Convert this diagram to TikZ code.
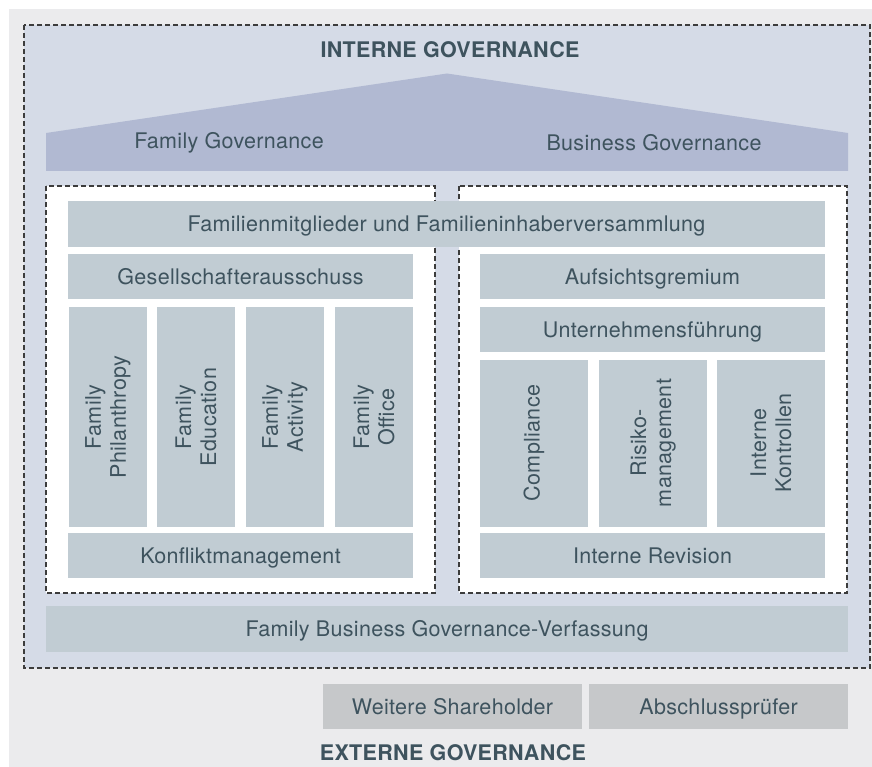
\documentclass[tikz,border=0pt]{standalone}
\usepackage{fontspec}
\setmainfont[LetterSpace=1.5]{TeX Gyre Heros}
\definecolor{paper}{HTML}{EBEBED}
\definecolor{lav}{HTML}{D5DBE7}
\definecolor{roofc}{HTML}{B1B9D2}
\definecolor{boxc}{HTML}{C1CCD3}
\definecolor{extc}{HTML}{C6C8CA}
\definecolor{ink}{HTML}{3E535E}
\definecolor{dashc}{HTML}{3C3C3C}
% horizontal block: [options]{x1}{y1}{x2}{y2}{text}
\newcommand\hblock[6][]{%
  \node[bar,#1,minimum width={(#4-#2)*1pt},minimum height={(#5-#3)*1pt}]
    at ({(#2+#4)/2},{(#3+#5)/2}) {#6};}
\begin{document}
\begin{tikzpicture}[x=1pt,y=-1pt,
  lbl/.style={text=ink,font=\fontsize{21.5}{25}\selectfont,inner sep=0pt},
  bar/.style={lbl,fill=boxc,draw=none,text height=15.5pt,text depth=0pt},
  vbar/.style={lbl,fill=boxc,draw=none,rotate=90,align=center},
  ext/.style={fill=extc},
  title/.style={text=ink,font=\fontsize{21.5}{25}\selectfont\bfseries,inner sep=0pt},
  frame/.style={draw=dashc,line width=1.1pt,dash pattern=on 5pt off 3pt}
]
\useasboundingbox (0,0) rectangle (872,767);
% background
\fill[paper] (9,9) rectangle (872,767);
% internal governance frame
\draw[frame,fill=lav] (24,25) rectangle (870,668);
\node[title] (intern) at (450,50) {INTERNE GOVERNANCE};
% roof
\fill[roofc] (46,171) -- (46,133) -- (447,73.5) -- (848,133) -- (848,171) -- cycle;
\node[lbl] (famgov) at (229,143) {Family Governance};
\node[lbl] (busgov) at (654,143) {Business Governance};
% two pillars
\draw[frame,fill=white] (46,186) rectangle (435,593);
\draw[frame,fill=white] (459,186) rectangle (847,593);
% shared top block
\hblock[name=mitglieder]{68}{201}{825}{247}{Familienmitglieder und Familieninhaberversammlung}
% family pillar
\hblock[name=gesell]{68}{254}{413}{299}{Gesellschafterausschuss}
\node[vbar,minimum width=220pt,minimum height=78pt] (phil) at (108,417) {Family\\Philanthropy};
\node[vbar,minimum width=220pt,minimum height=78pt] (edu) at (196,417) {Family\\Education};
\node[vbar,minimum width=220pt,minimum height=78pt] (act) at (285,417) {Family\\Activity};
\node[vbar,minimum width=220pt,minimum height=78pt] (off) at (374,417) {Family\\Office};
\hblock[name=konflikt]{68}{533}{413}{578}{Konfliktmanagement}
% business pillar
\hblock[name=aufsicht]{480}{254}{825}{299}{Aufsichtsgremium}
\hblock[name=fuehrung]{480}{307}{825}{352}{Unternehmensführung}
\node[vbar,minimum width=167pt,minimum height=108pt] (comp) at (534,443) {Compliance};
\node[vbar,minimum width=167pt,minimum height=108pt] (risk) at (653,443) {Risiko-\\management};
\node[vbar,minimum width=167pt,minimum height=108pt] (ctrl) at (771,443) {Interne\\Kontrollen};
\hblock[name=revision]{480}{533}{825}{578}{Interne Revision}
% constitution
\hblock[name=verfassung]{46}{606}{848}{652}{Family Business Governance-Verfassung}
% external governance
\hblock[name=shareholder,ext]{323}{684}{582}{729}{Weitere Shareholder}
\hblock[name=pruefer,ext]{589}{684}{848}{729}{Abschlussprüfer}
\node[title] (extern) at (453,753) {EXTERNE GOVERNANCE};
\end{tikzpicture}
\end{document}
